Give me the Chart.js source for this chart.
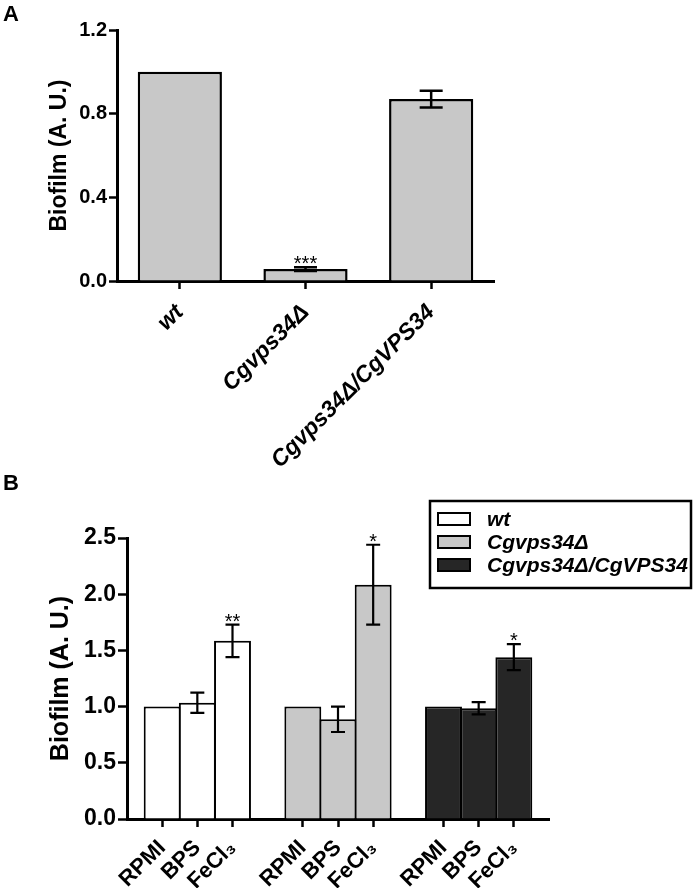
<!DOCTYPE html>
<html>
<head>
<meta charset="utf-8">
<script src="https://cdn.jsdelivr.net/npm/chart.js@4.4.0/dist/chart.umd.min.js"></script>
<style>
  body { margin: 0; background: #fff; }
  #wrap { position: relative; width: 693px; height: 888px; overflow: hidden; }
  canvas { position: absolute; left: 0; }
  .panel { position: absolute; left: 3px; font: bold 22px "Liberation Sans", Arial, sans-serif; color: #000; }
</style>
</head>
<body>
<div id="wrap">
  <canvas id="chartA" width="693" height="480" style="top:0"></canvas>
  <canvas id="chartB" width="693" height="448" style="top:440px"></canvas>
  <div class="panel" style="top:1px">A</div>
  <div class="panel" style="top:470px">B</div>
</div>
<script>
// panel A
var strains = ['wt', 'Cgvps34Δ', 'Cgvps34Δ/CgVPS34'];
var biofilmA = [1.0, 0.057, 0.87];
var errorA = [0, 0.009, 0.04];
var starsA = ['', '***', ''];
var ticksA = [0, 0.4, 0.8, 1.2];

// panel B
var conditions = ['RPMI', 'BPS', 'FeCl₃'];
var wtB = [1.0, 1.035, 1.585];
var deltaB = [1.0, 0.887, 2.085];
var complB = [1.0, 0.985, 1.44];
var wtErrB = [0, 0.09, 0.145];
var deltaErrB = [0, 0.113, 0.355];
var complErrB = [0, 0.055, 0.115];
var wtStarsB = ['', '', '**'];
var deltaStarsB = ['', '', '*'];
var complStarsB = ['', '', '*'];
var ticksB = [0, 0.5, 1.0, 1.5, 2.0, 2.5];

var FONT = "'Liberation Sans', Arial, sans-serif";

// 13 slots: empty, 3 bars, empty, 3 bars, empty, 3 bars, empty
var slotLabels = [''];
strains.forEach(function () {
  conditions.forEach(function (c) { slotLabels.push(c); });
  slotLabels.push('');
});

function slots(group, values) {
  var out = slotLabels.map(function () { return null; });
  values.forEach(function (v, j) { out[1 + group * 4 + j] = v; });
  return out;
}

var errorBarPlugin = {
  id: 'errorBars',
  afterDatasetsDraw: function (chart, args, opts) {
    var ctx = chart.ctx, y = chart.scales.y;
    chart.data.datasets.forEach(function (ds, di) {
      var meta = chart.getDatasetMeta(di);
      meta.data.forEach(function (bar, i) {
        var v = ds.data[i];
        if (v == null) return;
        var e = ds.errors ? ds.errors[i] : 0;
        var x = bar.x;
        var top = y.getPixelForValue(v + (e || 0));
        ctx.save();
        if (e) {
          var bot = y.getPixelForValue(v - e);
          ctx.strokeStyle = '#000';
          ctx.lineWidth = opts.lineWidth;
          ctx.beginPath();
          ctx.moveTo(x, top); ctx.lineTo(x, bot);
          ctx.moveTo(x - opts.cap / 2, top); ctx.lineTo(x + opts.cap / 2, top);
          ctx.moveTo(x - opts.cap / 2, bot); ctx.lineTo(x + opts.cap / 2, bot);
          ctx.stroke();
        }
        var s = ds.stars ? ds.stars[i] : '';
        if (s) {
          ctx.fillStyle = '#000';
          ctx.font = opts.starFont;
          ctx.textAlign = 'center';
          ctx.textBaseline = 'alphabetic';
          ctx.fillText(s, x, top + 3);
        }
        ctx.restore();
      });
    });
  }
};

var boxLegendPlugin = {
  id: 'boxLegend',
  afterDraw: function (chart, args, o) {
    var ctx = chart.ctx;
    ctx.save();
    ctx.strokeStyle = '#000';
    ctx.lineWidth = 2.5;
    ctx.strokeRect(o.left, o.top, o.width, o.height);
    chart.data.datasets.forEach(function (ds, i) {
      var yy = o.firstRow + i * o.rowGap;
      ctx.fillStyle = ds.backgroundColor;
      ctx.fillRect(o.left + 8, yy - 6, 32, 12);
      ctx.lineWidth = 2;
      ctx.strokeRect(o.left + 8, yy - 6, 32, 12);
      ctx.fillStyle = '#000';
      ctx.font = 'italic bold 21px ' + FONT;
      ctx.textBaseline = 'middle';
      ctx.fillText(ds.label, o.left + 57, yy + 1);
    });
    ctx.restore();
  }
};

new Chart(document.getElementById('chartA'), {
  type: 'bar',
  data: {
    labels: strains,
    datasets: [{
      data: biofilmA,
      errors: errorA,
      stars: starsA,
      backgroundColor: '#c8c8c8',
      borderColor: '#000',
      borderWidth: 2.5,
      barPercentage: 0.67,
      categoryPercentage: 1
    }]
  },
  options: {
    responsive: false,
    animation: false,
    layout: { padding: { left: 42, top: 30, right: 199, bottom: 0 } },
    plugins: {
      legend: { display: false },
      tooltip: { enabled: false },
      errorBars: { lineWidth: 2.5, cap: 23, starFont: '20px ' + FONT }
    },
    scales: {
      x: {
        offset: true,
        grid: { offset: false, drawOnChartArea: false, tickLength: 8, tickWidth: 2.5, tickColor: '#000' },
        border: { color: '#000', width: 3 },
        ticks: {
          color: '#000', autoSkip: false, minRotation: 45, maxRotation: 45, padding: 10,
          font: { family: FONT, size: 23, weight: 'bold', style: 'italic' }
        },
        afterFit: function (s) { s.height = 199; }
      },
      y: {
        min: 0, max: 1.2,
        afterBuildTicks: function (s) { s.ticks = ticksA.map(function (v) { return { value: v }; }); },
        grid: { drawOnChartArea: false, tickLength: 8, tickWidth: 2.5, tickColor: '#000' },
        border: { color: '#000', width: 3 },
        ticks: {
          color: '#000', padding: 2,
          font: { family: FONT, size: 20, weight: 'bold' },
          callback: function (v) { return Number(v).toFixed(1); }
        },
        title: {
          display: true, text: 'Biofilm (A. U.)', color: '#000',
          font: { family: FONT, size: 23, weight: 'bold' }, padding: { top: 4, bottom: 4 }
        },
        afterFit: function (s) { s.width = 75; }
      }
    }
  },
  plugins: [errorBarPlugin]
});

new Chart(document.getElementById('chartB'), {
  type: 'bar',
  data: {
    labels: slotLabels,
    datasets: [
      { label: strains[0], data: slots(0, wtB), errors: slots(0, wtErrB), stars: slots(0, wtStarsB), backgroundColor: '#ffffff' },
      { label: strains[1], data: slots(1, deltaB), errors: slots(1, deltaErrB), stars: slots(1, deltaStarsB), backgroundColor: '#c8c8c8' },
      { label: strains[2], data: slots(2, complB), errors: slots(2, complErrB), stars: slots(2, complStarsB), backgroundColor: '#262626' }
    ]
  },
  options: {
    responsive: false,
    animation: false,
    datasets: { bar: { grouped: false, borderColor: '#000', borderWidth: 2, barPercentage: 1.05, categoryPercentage: 1 } },
    layout: { padding: { left: 42, top: 98, right: 144, bottom: 0 } },
    plugins: {
      legend: { display: false },
      tooltip: { enabled: false },
      errorBars: { lineWidth: 2.2, cap: 14, starFont: '20px ' + FONT },
      boxLegend: { left: 430, top: 61, width: 261, height: 87, firstRow: 79, rowGap: 23 }
    },
    scales: {
      x: {
        offset: false,
        grid: {
          offset: false, drawOnChartArea: false, tickLength: 8, tickWidth: 2.5,
          tickColor: function (c) { return slotLabels[c.index] ? '#000' : 'rgba(0,0,0,0)'; }
        },
        border: { color: '#000', width: 3 },
        ticks: {
          color: '#000', autoSkip: false, minRotation: 45, maxRotation: 45, padding: 8,
          font: { family: FONT, size: 22, weight: 'bold' }
        },
        afterFit: function (s) { s.height = 69; }
      },
      y: {
        min: 0, max: 2.5,
        afterBuildTicks: function (s) { s.ticks = ticksB.map(function (v) { return { value: v }; }); },
        grid: { drawOnChartArea: false, tickLength: 9, tickWidth: 2.5, tickColor: '#000' },
        border: { color: '#000', width: 3 },
        ticks: {
          color: '#000', padding: 2,
          font: { family: FONT, size: 23, weight: 'bold' },
          callback: function (v) { return Number(v).toFixed(1); }
        },
        title: {
          display: true, text: 'Biofilm (A. U.)', color: '#000',
          font: { family: FONT, size: 25, weight: 'bold' }, padding: { top: 4, bottom: 4 }
        },
        afterFit: function (s) { s.width = 85; }
      }
    }
  },
  plugins: [errorBarPlugin, boxLegendPlugin]
});
</script>
</body>
</html>
